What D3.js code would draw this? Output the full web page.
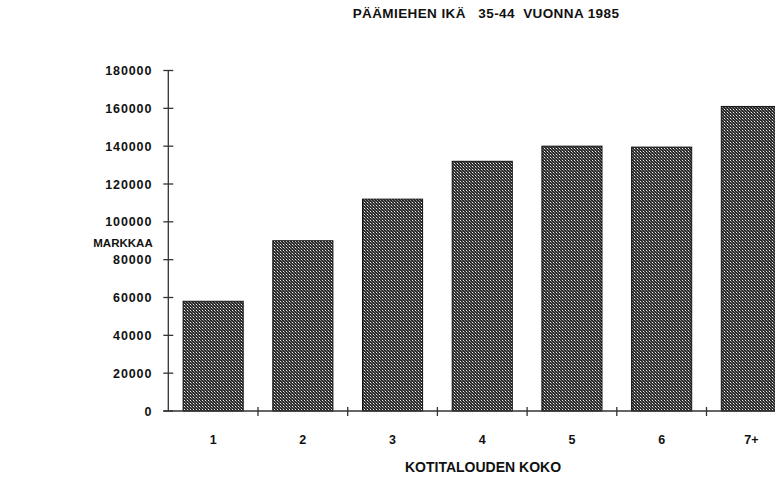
<!DOCTYPE html>
<html>
<head>
<meta charset="utf-8">
<script src="https://cdn.jsdelivr.net/npm/d3@7"></script>
<style>
  html, body { margin: 0; padding: 0; background: #fff; }
  svg { display: block; }
  text { font-family: "Liberation Sans", Arial, sans-serif; fill: #111; }
</style>
</head>
<body>
<script>
const categories = ["1", "2", "3", "4", "5", "6", "7+"];
const values = [58000, 90000, 112000, 132000, 140000, 139500, 161000];
const yTicks = [0, 20000, 40000, 60000, 80000, 100000, 120000, 140000, 160000, 180000];
const title = "PÄÄMIEHEN IKÄ   35-44  VUONNA 1985";
const yTitle = "MARKKAA";
const xTitle = "KOTITALOUDEN KOKO";

const W = 775, H = 477;
const svg = d3.select("body").append("svg").attr("width", W).attr("height", H);

const defs = svg.append("defs");
const pat = defs.append("pattern").attr("id", "dots")
  .attr("patternUnits", "userSpaceOnUse").attr("width", 3).attr("height", 3);
pat.append("rect").attr("width", 3).attr("height", 3).attr("fill", "#2a2a2a");
pat.append("rect").attr("x", 1).attr("y", 1).attr("width", 1).attr("height", 1).attr("fill", "#f0f0f0");
pat.append("rect").attr("x", 2).attr("y", 2).attr("width", 1).attr("height", 1).attr("fill", "#8a8a8a");
pat.append("rect").attr("x", 0).attr("y", 0).attr("width", 1).attr("height", 1).attr("fill", "#6a6a6a");

const x0 = 168.3, step = 89.7;
const x = d3.scaleBand().domain(categories).range([x0, x0 + step * categories.length])
  .paddingInner(0.33).paddingOuter(0.165);
const y = d3.scaleLinear().domain([0, 180000]).range([411, 70.5]);

// bars
svg.selectAll("rect.bar").data(values).enter().append("rect")
  .attr("class", "bar")
  .attr("x", (d, i) => x(categories[i]))
  .attr("width", x.bandwidth())
  .attr("y", d => y(d))
  .attr("height", d => y(0) - y(d))
  .attr("fill", "url(#dots)")
  .attr("stroke", "#111")
  .attr("stroke-width", 1);

// y axis
const yAxis = d3.axisLeft(y).tickValues(yTicks).tickFormat(d3.format("d")).tickSize(0).tickPadding(16);
const gy = svg.append("g").attr("transform", `translate(${x0},0)`).call(yAxis);
gy.select(".domain").remove();
gy.selectAll("text").style("font-size", "12.5px").style("font-weight", "bold")
  .style("letter-spacing", "0.9px").attr("fill", "#111").attr("font-family", null);
svg.append("line").attr("x1", x0).attr("x2", x0).attr("y1", y(180000)).attr("y2", y(0))
  .attr("stroke", "#333").attr("stroke-width", 1.3);
svg.selectAll("line.ytick").data(yTicks).enter().append("line")
  .attr("class", "ytick")
  .attr("x1", x0 - 5).attr("x2", x0 + 5)
  .attr("y1", d => y(d)).attr("y2", d => y(d))
  .attr("stroke", "#333").attr("stroke-width", 1.3);

// x axis
svg.append("line").attr("x1", x0 - 5).attr("x2", W).attr("y1", y(0)).attr("y2", y(0))
  .attr("stroke", "#333").attr("stroke-width", 1.3);
const boundaries = categories.slice(1).map(c => x(c) - x.step() * x.paddingInner() / 2);
svg.selectAll("line.xtick").data(boundaries).enter().append("line")
  .attr("class", "xtick")
  .attr("x1", d => d).attr("x2", d => d)
  .attr("y1", y(0) - 4).attr("y2", y(0) + 5)
  .attr("stroke", "#333").attr("stroke-width", 1.3);
svg.selectAll("text.xlab").data(categories).enter().append("text")
  .attr("class", "xlab")
  .attr("x", d => x(d) + x.bandwidth() / 2)
  .attr("y", 444)
  .attr("text-anchor", "middle")
  .style("font-size", "12.5px").style("font-weight", "bold")
  .text(d => d);

// titles
svg.append("text").attr("x", 486).attr("y", 18).attr("text-anchor", "middle")
  .style("font-size", "13.5px").style("font-weight", "bold").style("white-space", "pre")
  .style("letter-spacing", "0.4px")
  .attr("xml:space", "preserve")
  .text(title);
svg.append("text").attr("x", 123).attr("y", 247).attr("text-anchor", "middle")
  .style("font-size", "11.5px").style("font-weight", "bold").text(yTitle);
svg.append("text").attr("x", 483).attr("y", 472).attr("text-anchor", "middle")
  .style("font-size", "14px").style("font-weight", "bold").text(xTitle);
</script>
</body>
</html>
